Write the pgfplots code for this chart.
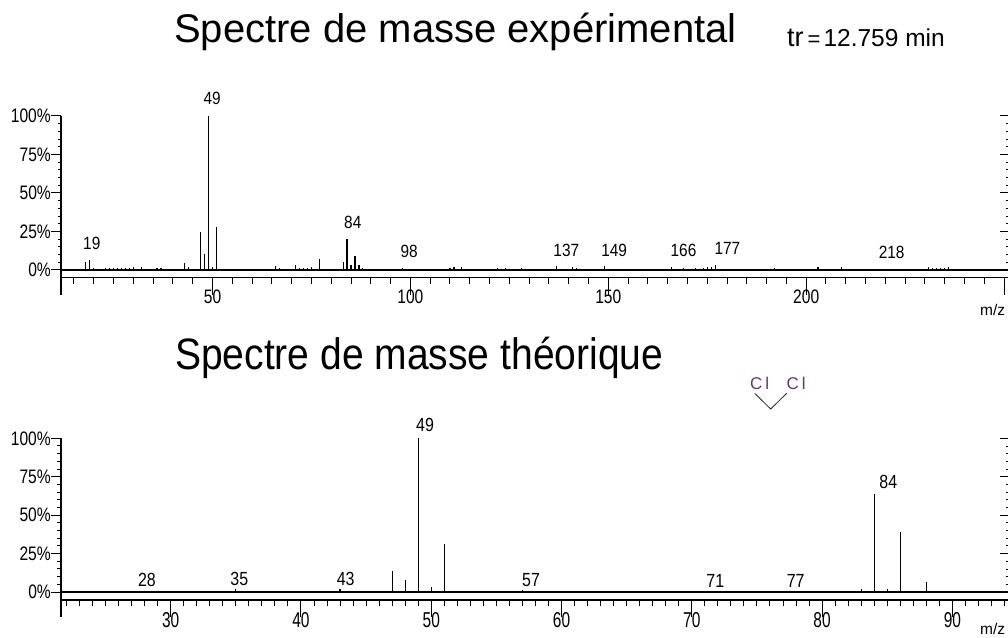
\documentclass[border=0pt]{standalone}
\usepackage{fontspec}
\setmainfont{Liberation Sans}
\newfontfamily\tkfont[FakeStretch=0.80]{Liberation Sans}
\newfontfamily\tkfontb[FakeStretch=0.72]{Liberation Sans}
\newfontfamily\plfont[FakeStretch=0.87]{Liberation Sans}
\newfontfamily\plfontb[FakeStretch=0.84]{Liberation Sans}
\newfontfamily\ttlb[FakeStretch=0.887]{Liberation Sans}
\usepackage{pgfplots}
\pgfplotsset{compat=1.18}
\definecolor{clpurple}{RGB}{112,48,112}

\pgfplotsset{
 msaxis/.style={
  scale only axis, width=947pt, height=161.7pt,
  ymax=100,
  axis x line*=bottom, axis y line*=left,
  axis line style={-, line width=1.1pt, black},
  tick align=outside,
  major tick length=10pt, minor tick length=3.5pt,
  ytick={0,25,50,75,100},
  yticklabels={0\%,25\%,50\%,75\%,100\%},
  minor ytick={5,10,...,95},
  tick style={line width=1pt, black},
  xtick style={/pgfplots/major tick length=17pt,/pgfplots/minor tick length=6pt},
  yticklabel style={font=\tkfont\fontsize{19.5}{19.5}\selectfont, inner sep=0pt},
  clip=false,
 },
}
\tikzset{
 pk/.style={font=\plfont\fontsize{17.7}{17.7}\selectfont, inner sep=0pt, anchor=center},
 pkb/.style={font=\plfontb\fontsize{19}{19}\selectfont, inner sep=0pt, anchor=center},
}

\begin{document}
\begin{tikzpicture}
\useasboundingbox (0,0) rectangle (1008pt,637pt);

% Titles
\node[anchor=base west, inner sep=0pt, font=\fontsize{40}{40}\selectfont] at (174pt,594.3pt) {Spectre de masse expérimental};
\node[anchor=base west, inner sep=0pt] at (787pt,590.3pt) {\fontsize{27}{27}\selectfont tr\kern4pt\fontsize{22}{22}\selectfont =\kern3pt\fontsize{24.5}{24.5}\selectfont 12.759 min};
\node[anchor=base west, inner sep=0pt, font=\ttlb\fontsize{44}{44}\selectfont] at (175pt,267pt) {Spectre de masse théorique};

% Structure
\node[anchor=base west, inner sep=0pt, text=clpurple, font=\fontsize{17}{17}\selectfont] at (750pt,247pt) {C\kern3pt l};
\node[anchor=base west, inner sep=0pt, text=clpurple, font=\fontsize{17}{17}\selectfont] at (786.5pt,247pt) {C\kern3pt l};
\draw[line width=0.8pt, black!85] (754.7pt,243.7pt) -- (770.7pt,228pt) -- (786.7pt,243.7pt);

% m/z labels
\node[anchor=north west, inner sep=0pt, font=\fontsize{15.5}{15.5}\selectfont] at (980pt,333pt) {m/z};
\node[anchor=north west, inner sep=0pt, font=\fontsize{15.5}{15.5}\selectfont] at (980pt,14pt) {m/z};

% ---------------- Top: experimental spectrum ----------------
\begin{axis}[msaxis, at={(61pt,359.3pt)}, anchor=south west,
  xmin=11.72, xmax=251, ymin=-5,
  xtick={50,100,150,200,250}, xticklabels={50,100,150,200,{}},
  minor xtick={15,20,...,245},
  xticklabel style={font=\tkfont\fontsize{19.5}{19.5}\selectfont, inner sep=0pt, anchor=center, yshift=-9.5pt},
]
\addplot[ycomb, black, line width=1.2pt, mark=none] coordinates {
(17,0.5)(18,5.4)(19,6.5)(20,1.5)(23,1.0)(24,1.0)(25,1.5)(26,1.0)(27,1.5)(28,1.5)(29,1.2)(30,2.0)(31,0.6)(32,2.0)
(35,0.8)(36,1.2)(37,1.5)(43,4.5)(44,1.8)(47,24.9)(48,10.4)(49,100)(50,1.7)(51,27.7)(53,0.8)(59,0.8)
(64,0.8)(66,2.8)(67,1.0)(71,3.5)(72,1.2)(73,1.2)(74,1.2)(75,2.0)(77,7.4)(78,0.6)
(82,0.8)(83,5.4)(84,19.9)(85,3.0)(86,9.3)(87,3.3)(88,1.0)(90,0.6)(98,1.0)(103,0.6)(106,0.6)
(110,1.2)(111,1.8)(112,0.8)(113,1.8)(120,0.8)(122,1.2)(124,1.2)(125,0.6)(128,1.2)(129,0.8)(130,0.6)
(133,0.6)(135,0.6)(137,2.8)(139,0.6)(141,1.8)(142,1.2)(144,0.6)(149,2.5)(150,0.8)(155,0.6)(159,0.6)(163,0.6)
(166,2.2)(169,1.2)(172,1.2)(173,0.8)(174,1.2)(175,2.0)(176,2.2)(177,3.0)
(184,0.8)(186,0.8)(188,0.8)(190,0.8)(192,1.0)(199,0.5)(203,2.2)(209,1.8)
(218,0.8)(223,0.6)(225,0.6)(227,0.6)(229,0.8)(230,0.6)(231,1.8)(232,1.0)(233,1.0)(234,1.0)(235,1.2)(236,1.8)
};
\draw[line width=1.1pt] (axis cs:11.72,0) -- (axis cs:251,0);
\draw[line width=1.1pt] (axis cs:11.72,-5) -- ++(0pt,-17pt);
\pgfplotsinvokeforeach{25,50,75,100}{\draw[line width=1pt] (axis cs:251,#1) -- ++(-8pt,0pt);}
\pgfplotsinvokeforeach{5,10,15,20,30,35,40,45,55,60,65,70,80,85,90,95}{\draw[line width=0.8pt] (axis cs:251,#1) -- ++(-2pt,0pt);}
\node[pk] at (axis cs:19.5,17.3) {19};
\node[pk] at (axis cs:49.9,111.5) {49};
\node[pk] at (axis cs:85.45,30.7) {84};
\node[pk] at (axis cs:99.7,12.3) {98};
\node[pk] at (axis cs:139.4,13) {137};
\node[pk] at (axis cs:151.5,13) {149};
\node[pk] at (axis cs:169.0,13) {166};
\node[pk] at (axis cs:180.1,14.1) {177};
\node[pk] at (axis cs:221.6,11.2) {218};
\end{axis}

% ---------------- Bottom: theoretical spectrum ----------------
\begin{axis}[msaxis, at={(61pt,37pt)}, anchor=south west,
  xmin=21.58, xmax=94.27, ymin=-5.2,
  xtick={30,40,...,90},
  xticklabels={30,40,50,60,70,80,90},
  minor xtick={22,23,...,94},
  xticklabel style={font=\tkfontb\fontsize{21.5}{21.5}\selectfont, inner sep=0pt, anchor=center, yshift=-10.3pt},
]
\addplot[ycomb, black, line width=1.2pt, mark=none] coordinates {
(27,0.3)(28,0.9)(29,0.3)(35,1.9)(36,0.6)(37,0.3)(41,0.5)(42,0.3)(43,2.0)
(47,13.9)(48,7.8)(49,100)(50,3.3)(51,31.4)(52,0.5)(56,0.5)(57,1.0)
(71,0.3)(77,0.3)(82,0.3)(83,1.7)(84,63.8)(85,1.9)(86,39.2)(87,0.5)(88,6.3)
};
\draw[line width=1.1pt] (axis cs:21.58,0) -- (axis cs:94.27,0);
\draw[line width=1.1pt] (axis cs:21.58,-5.2) -- ++(0pt,-17pt);
\pgfplotsinvokeforeach{25,50,75,100}{\draw[line width=1pt] (axis cs:94.27,#1) -- ++(-8pt,0pt);}
\pgfplotsinvokeforeach{5,10,15,20,30,35,40,45,55,60,65,70,80,85,90,95}{\draw[line width=0.8pt] (axis cs:94.27,#1) -- ++(-2pt,0pt);}
\node[pkb] at (axis cs:28.18,7.8) {28};
\node[pkb] at (axis cs:35.27,8.2) {35};
\node[pkb] at (axis cs:43.43,8.5) {43};
\node[pkb] at (axis cs:49.52,108.6) {49};
\node[pkb] at (axis cs:57.66,7.8) {57};
\node[pkb] at (axis cs:71.8,7.2) {71};
\node[pkb] at (axis cs:77.97,7.2) {77};
\node[pkb] at (axis cs:85.08,71.8) {84};
\end{axis}
\end{tikzpicture}
\end{document}
